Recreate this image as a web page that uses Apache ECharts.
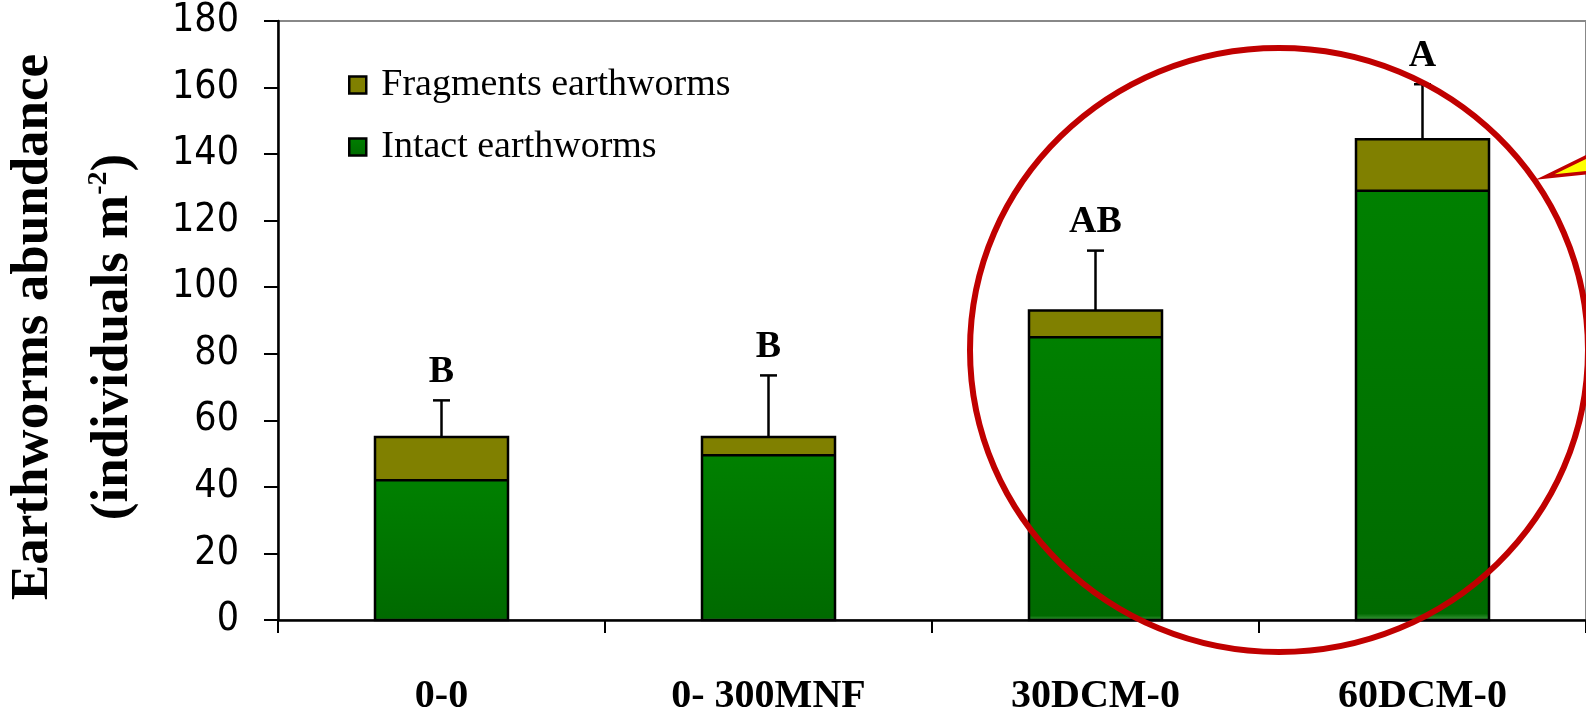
<!DOCTYPE html>
<html>
<head>
<meta charset="utf-8">
<script src="https://cdn.jsdelivr.net/npm/echarts@6/dist/echarts.min.js"></script>
<style>
html,body{margin:0;padding:0;background:#fff;}
#chart{width:1586px;height:717px;}
</style>
</head>
<body>
<div id="chart"></div>
<script>
// ---- data ----
const categories = ['0-0', '0- 300MNF', '30DCM-0', '60DCM-0'];
const intact = [42, 49.5, 85, 129];
const fragments = [13, 5.5, 8, 15.5];
const errorUp = [11, 18.5, 18, 16.5];
const letters = ['B', 'B', 'AB', 'A'];
const yMin = 0, yMax = 180, yStep = 20;

const SERIF = '"Liberation Serif","Times New Roman",serif';
const NARROW = '"Liberation Sans Narrow","DejaVu Sans Condensed","Liberation Sans",sans-serif';
const BAR_W = 133;

const outlineData = categories.map((c, i) => [i, intact[i], intact[i] + fragments[i], intact[i] + fragments[i] + errorUp[i]]);

const chart = echarts.init(document.getElementById('chart'));
chart.setOption({
  animation: false,
  backgroundColor: '#fff',
  grid: {
    left: 278, top: 21, width: 1316, height: 600,
    show: true, borderColor: '#888', borderWidth: 2, backgroundColor: 'transparent'
  },
  legend: {
    orient: 'vertical',
    left: 343, top: 60,
    itemWidth: 17, itemHeight: 17, itemGap: 22,
    icon: 'rect',
    data: ['Fragments earthworms', 'Intact earthworms'],
    itemStyle: { borderColor: '#000', borderWidth: 2.5 },
    textStyle: { fontFamily: SERIF, fontSize: 38, color: '#000', lineHeight: 40, padding: [0, 0, 0, 10] }
  },
  xAxis: {
    type: 'category',
    data: categories,
    axisLine: { lineStyle: { color: '#000', width: 2.5 } },
    axisTick: { show: true, inside: false, length: 13, alignWithLabel: false, lineStyle: { color: '#000', width: 2 } },
    axisLabel: { interval: 0, margin: 57, fontFamily: SERIF, fontWeight: 'bold', fontSize: 40, color: '#000' },
    splitLine: { show: false }
  },
  yAxis: {
    type: 'value',
    min: yMin, max: yMax, interval: yStep,
    axisLine: { show: true, lineStyle: { color: '#000', width: 2.5 } },
    axisTick: { show: true, inside: false, length: 14, lineStyle: { color: '#000', width: 2 } },
    axisLabel: { margin: 39, fontFamily: NARROW, fontSize: 39, color: '#000', padding: [8, 0, 0, 0] },
    splitLine: { show: false }
  },
  series: [
    {
      name: 'Intact earthworms', type: 'bar', stack: 'a', barWidth: BAR_W,
      data: intact,
      itemStyle: {
        color: new echarts.graphic.LinearGradient(0, 0, 0, 1, [
          { offset: 0, color: '#008000' }, { offset: 0.985, color: '#006a00' }, { offset: 1, color: '#3d983d' }
        ]),
        borderWidth: 0
      }
    },
    {
      name: 'Fragments earthworms', type: 'bar', stack: 'a', barWidth: BAR_W,
      data: fragments,
      itemStyle: { color: '#808000', borderWidth: 0 }
    },
    {
      name: 'outline', type: 'custom', z: 5,
      data: outlineData,
      renderItem: function (params, api) {
        const i = api.value(0);
        const pBase = api.coord([i, 0]);
        const pMid = api.coord([i, api.value(1)]);
        const pTop = api.coord([i, api.value(2)]);
        const pErr = api.coord([i, api.value(3)]);
        const x0 = pBase[0] - BAR_W / 2, x1 = pBase[0] + BAR_W / 2;
        const ls = { stroke: '#000', lineWidth: 2.5 };
        return {
          type: 'group',
          children: [
            { type: 'rect', shape: { x: x0, y: pTop[1], width: BAR_W, height: pBase[1] - pTop[1] }, style: { fill: 'none', stroke: '#000', lineWidth: 2.5 } },
            { type: 'line', shape: { x1: x0, y1: pMid[1], x2: x1, y2: pMid[1] }, style: ls },
            { type: 'line', shape: { x1: pTop[0], y1: pTop[1], x2: pErr[0], y2: pErr[1] }, style: ls },
            { type: 'line', shape: { x1: pErr[0] - 8.5, y1: pErr[1], x2: pErr[0] + 8.5, y2: pErr[1] }, style: ls },
            { type: 'text', x: pErr[0], y: pErr[1] - 28,
              style: { text: letters[i], fill: '#000', font: 'bold 38px ' + SERIF, align: 'center', verticalAlign: 'middle' } }
          ]
        };
      }
    }
  ],
  graphic: [
    { type: 'text', x: 33, y: 327, rotation: Math.PI / 2,
      style: { text: 'Earthworms abundance', fill: '#000', font: 'bold 53px ' + SERIF, align: 'center', verticalAlign: 'middle' } },
    { type: 'text', x: 113, y: 337, rotation: Math.PI / 2,
      style: {
        text: '{a|(individuals m}{s|-2}{a|)}', align: 'center', verticalAlign: 'middle',
        rich: {
          a: { fontFamily: SERIF, fontWeight: 'bold', fontSize: 53, lineHeight: 56, fill: '#000' },
          s: { fontFamily: SERIF, fontWeight: 'bold', fontSize: 28, lineHeight: 56, verticalAlign: 'top', fill: '#000' }
        }
      } },
    { type: 'ellipse', z: 100, shape: { cx: 1279, cy: 350, rx: 309, ry: 302 },
      style: { fill: 'none', stroke: '#c00000', lineWidth: 6 } },
    { type: 'polygon', z: 100, shape: { points: [[1545, 177], [1592, 154], [1592, 172]] },
      style: { fill: '#ffff00', stroke: '#c00000', lineWidth: 3.5 } }
  ]
});
</script>
</body>
</html>
